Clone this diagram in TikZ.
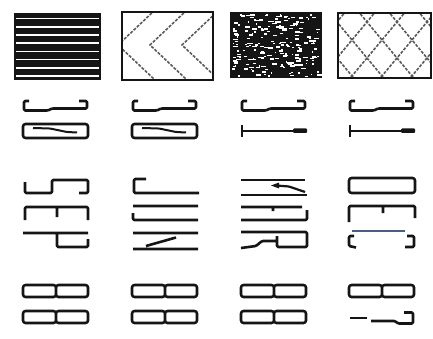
\documentclass[tikz,border=0pt]{standalone}
\usetikzlibrary{calc}
\definecolor{SymInk}{HTML}{151515}
\definecolor{SymHatch}{HTML}{5A5A5A}
\definecolor{SymBlue}{HTML}{4C5E7E}

\begin{document}
\begin{tikzpicture}[x=1pt,y=-1pt]
  \tikzset{sym/.style={draw=SymInk,line width=2.6pt,line join=round,rounded corners=1.2pt},
    pane/.style={draw=SymInk,line width=2.8pt},
    hatch/.style={draw=SymHatch,line width=1.6pt,dash pattern=on 3pt off 1.4pt}}
  \useasboundingbox (0,0) rectangle (433,339);

  % striped pane
  \fill[SymInk] (14,13) rectangle (101,80);
  \foreach \k in {0,...,7}
    \draw[white,line width=1.7pt] (16,{18.6+8.2*\k}) -- (99,{18.6+8.2*\k});

  % chevron pane
  \begin{scope}
    \clip (122,12) rectangle (213,80);
    \foreach \vx in {118,150,182}
      \draw[hatch] ({\vx+37},10) -- (\vx,45) -- ({\vx+37},80);
  \end{scope}
  \draw[pane] (122,12) rectangle (213,80);

  % speckled pane
  \fill[SymInk] (230,12) rectangle (322,78);
  \pgfmathsetseed{11}
  \foreach \k in {1,...,210}{
    \pgfmathsetmacro\sx{232+86*rnd}
    \pgfmathsetmacro\sy{14+62*rnd}
    \pgfmathsetmacro\sw{1+4.5*rnd}
    \fill[white] (\sx,\sy) rectangle ({\sx+\sw},{\sy+1.5});
  }

  % cross-hatched pane
  \begin{scope}
    \clip (338,13) rectangle (431,78);
    \foreach \k in {-4,...,4}{
      \draw[hatch] ({367+30*\k-43.3},-30) -- ({367+30*\k+90},130);
      \draw[hatch] ({367+30*\k+43.3},-30) -- ({367+30*\k-90},130);
    }
  \end{scope}
  \draw[pane] (338,13) rectangle (431,78);

  % row 2: open capsules
  \foreach \cx in {23,132,241,349}
    \draw[sym,shift={(\cx,0)}] (6,101) -- (1,101) -- (1,110.5) -- (25,110.5) -- (29,108.5) -- (64,108.5) -- (64,101) -- (56,101);

  % row 3
  \foreach \cx in {23,132}{
    \draw[sym,rounded corners=2.5pt,shift={(\cx,0)}] (0,124) rectangle (65,138);
    \draw[sym,line width=2pt,shift={(\cx,0)}] (10,128) -- (27,128.5) -- (44,132) -- (54,132.5);
  }
  \foreach \cx in {241,349}{
    \draw[sym,shift={(\cx,0)}] (1,125) -- (1,137) (1,131) -- (56,131);
    \fill[SymInk,rounded corners=1pt,shift={(\cx,0)}] (52,128.5) rectangle (66,133);
  }

  % row 4
  \draw[sym] (25,182) -- (25,193) -- (52,193) -- (52,180) -- (88,180) -- (88,193) -- (79,193);
  \draw[sym] (146,179) -- (134,179) -- (134,193) -- (199,193);
  \draw[sym] (241,180) -- (305,180) (241,195) -- (307,195);
  \draw[sym,line width=2.2pt] (276,185.5) -- (289,186.5) -- (305,192);
  \fill[SymInk] (271,185.5) -- (279,182.5) -- (279,188.5) -- cycle;
  \draw[sym,rounded corners=2.5pt] (349,178) rectangle (415,193);

  % row 5
  \draw[sym] (25,220) -- (25,207) -- (88,207) -- (88,220) (57,207) -- (57,217);
  \draw[sym] (133,206) -- (198,206) (133,213) -- (133,220) -- (198,220);
  \draw[sym] (241,207) -- (302,207) (273,207) -- (273,211) (241,220) -- (307,220) -- (307,210);
  \draw[sym] (349,222) -- (349,206) -- (415,206) -- (415,218) (383,206) -- (383,213);

  % row 6
  \draw[sym] (23,233) -- (88,233) (57,233) -- (57,247) -- (88,247) -- (88,239);
  \draw[sym] (133,233) -- (198,233) (133,249) -- (198,249) (146,246) -- (176,237.5);
  \draw[sym] (241,232) -- (307,232) -- (307,247) -- (277,247) -- (277,236)
    (241,248) -- (256,246) -- (262,241) -- (277,241);
  \draw[sym,draw=SymBlue] (352,231) -- (405,231);
  \draw[sym] (354,236) -- (349,236) -- (349,246) -- (356,247.5)
    (407,236) -- (414,236) -- (414,247) -- (405,247);

  % rows 7 and 8: linked capsules
  \foreach \cx/\cy in {23/285,132/285,241/285,349/285,23/311,132/311,241/311}
    \draw[sym,rounded corners=2.5pt,shift={(\cx,\cy)}] (0,0) rectangle (33,12) (33,0) rectangle (65,12);
  \draw[sym] (350,318) -- (367,318);
  \draw[sym] (371,321) -- (395,321) -- (398,323.5) -- (413,323.5) -- (413,312.5) -- (404,312.5);
\end{tikzpicture}
\end{document}
